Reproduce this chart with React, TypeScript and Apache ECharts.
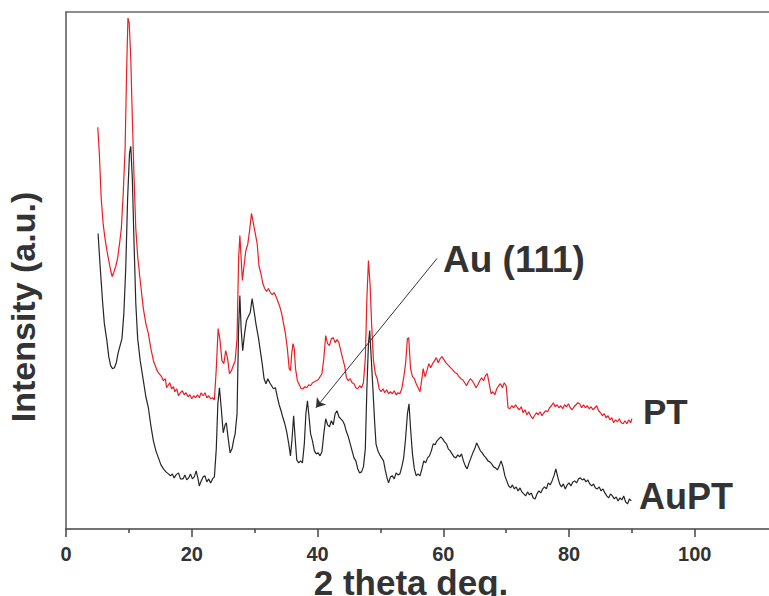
import React, { useEffect, useRef } from "react";
import * as echarts from "echarts";

// 2 theta (deg) and intensity (a.u.) for PT (red)
const ptTheta = [
  5.05, 5.3, 5.6, 5.9, 6.2, 6.5, 6.8, 7.1, 7.35, 7.6, 7.9, 8.2, 8.5, 8.8, 9.1, 9.4, 9.65, 9.85, 10.05, 10.3,
  10.55, 10.8, 11.1, 11.4, 11.8, 12.3, 12.7, 13.1, 13.5, 13.9, 14.2, 14.5, 14.8, 15.2, 15.5, 15.8, 16.0, 16.3, 16.5, 16.8,
  17.1, 17.3, 17.6, 17.9, 18.2, 18.5, 18.8, 19.1, 19.4, 19.7, 20.0, 20.3, 20.6, 20.9, 21.2, 21.5, 21.8, 22.1, 22.4, 22.7,
  23.0, 23.3, 23.6, 23.9, 24.2, 24.5, 24.8, 25.1, 25.4, 25.7, 26.0, 26.3, 26.6, 26.9, 27.2, 27.45, 27.65, 27.85, 28.05, 28.3,
  28.6, 28.9, 29.2, 29.5, 29.8, 30.1, 30.4, 30.7, 31.0, 31.3, 31.6, 31.9, 32.2, 32.5, 32.8, 33.1, 33.4, 33.7, 34.0, 34.3,
  34.6, 34.9, 35.2, 35.5, 35.7, 35.9, 36.1, 36.3, 36.5, 36.8, 37.1, 37.4, 37.7, 38.0, 38.3, 38.6, 38.9, 39.2, 39.5, 39.8,
  40.1, 40.4, 40.7, 41.0, 41.3, 41.6, 41.9, 42.2, 42.5, 42.8, 43.1, 43.4, 43.7, 44.0, 44.3, 44.6, 44.9, 45.2, 45.5, 45.8,
  46.1, 46.4, 46.7, 47.0, 47.3, 47.6, 47.85, 48.1, 48.35, 48.6, 48.9, 49.2, 49.5, 49.8, 50.1, 50.4, 50.7, 51.0, 51.3, 51.6,
  51.9, 52.2, 52.5, 52.8, 53.1, 53.4, 53.7, 54.0, 54.3, 54.5, 54.8, 55.1, 55.4, 55.7, 56.0, 56.3, 56.6, 56.8, 57.1, 57.4,
  57.7, 58.0, 58.3, 58.6, 58.9, 59.2, 59.5, 59.8, 60.1, 60.4, 60.7, 61.0, 61.3, 61.6, 61.9, 62.2, 62.5, 62.8, 63.1, 63.4,
  63.7, 64.0, 64.3, 64.6, 64.9, 65.2, 65.5, 65.8, 66.1, 66.4, 66.7, 67.0, 67.3, 67.6, 67.9, 68.2, 68.5, 68.8, 69.1, 69.4,
  69.7, 70.0, 70.3, 70.6, 70.9, 71.2, 71.5, 71.8, 72.1, 72.4, 72.7, 73.0, 73.3, 73.6, 73.9, 74.2, 74.5, 74.8, 75.1, 75.4,
  75.7, 76.0, 76.3, 76.6, 76.9, 77.2, 77.5, 77.8, 78.1, 78.4, 78.7, 79.0, 79.3, 79.6, 79.9, 80.2, 80.5, 80.8, 81.1, 81.4,
  81.7, 82.0, 82.3, 82.6, 82.9, 83.2, 83.5, 83.8, 84.1, 84.4, 84.7, 85.0, 85.3, 85.6, 85.9, 86.2, 86.5, 86.8, 87.1, 87.4,
  87.7, 88.0, 88.3, 88.6, 88.9, 89.2, 89.5, 89.8, 90.0,
];
const ptIntensity = [
  401, 375, 330, 305, 290, 278, 268, 258, 252, 256, 262, 270, 284, 300, 335, 380, 460, 510, 505, 470,
  410, 355, 300, 272, 248, 220, 205, 195, 180, 168, 163, 158, 155, 152, 148, 150, 141, 144, 146, 140,
  142, 137, 140, 133, 136, 138, 134, 136, 132, 134, 130, 133, 131, 134, 131, 136, 133, 136, 131, 133,
  130, 131, 129, 160, 200, 188, 168, 165, 178, 170, 155, 158, 163, 168, 190, 270, 293, 270, 248, 262,
  278, 284, 298, 315, 305, 295, 285, 262, 255, 245, 240, 237, 240, 236, 234, 236, 232, 227, 222, 215,
  205, 195, 180, 160, 158, 175, 185, 180, 160, 148, 144, 140, 140, 142, 141, 144, 143, 146, 147, 148,
  149, 152, 155, 170, 193, 185, 183, 190, 191, 186, 189, 186, 178, 170, 163, 151, 148, 150, 146, 145,
  141, 140, 143, 141, 146, 170, 230, 268, 245, 205, 168, 155, 150, 140, 137, 140, 136, 139, 135, 137,
  135, 138, 134, 136, 135, 140, 151, 165, 190, 191, 160, 152, 150, 145, 141, 137, 150, 160, 152, 158,
  165, 161, 165, 168, 171, 166, 170, 172, 169, 166, 164, 162, 160, 158, 156, 155, 152, 150, 149, 146,
  143, 147, 150, 148, 145, 141, 144, 148, 151, 148, 153, 155, 145, 135, 137, 134, 140, 143, 145, 141,
  146, 143, 121, 120, 123, 121, 124, 121, 119, 122, 116, 119, 114, 117, 113, 110, 113, 116, 114, 117,
  113, 116, 118, 117, 121, 123, 126, 122, 124, 121, 123, 120, 124, 122, 125, 121, 119, 122, 124, 126,
  125, 121, 124, 121, 123, 120, 122, 119, 121, 123, 118, 116, 113, 115, 111, 113, 109, 111, 106, 109,
  107, 110, 106, 105, 108, 105, 109, 106, 110,
];

// 2 theta (deg) and intensity (a.u.) for AuPT (black)
const auptTheta = [
  5.1, 5.4, 5.8, 6.1, 6.5, 6.8, 7.1, 7.4, 7.7, 8.0, 8.3, 8.6, 8.9, 9.2, 9.5, 9.8, 10.1, 10.3, 10.55, 10.8,
  11.1, 11.4, 11.8, 12.3, 12.7, 13.1, 13.5, 13.9, 14.3, 14.7, 15.1, 15.5, 15.9, 16.3, 16.6, 16.9, 17.2, 17.5, 17.9, 18.2,
  18.6, 18.9, 19.2, 19.5, 19.8, 20.1, 20.4, 20.7, 21.0, 21.2, 21.5, 21.8, 22.1, 22.4, 22.7, 23.0, 23.3, 23.6, 23.9, 24.15,
  24.4, 24.7, 25.0, 25.3, 25.5, 25.8, 26.1, 26.4, 26.7, 26.9, 27.2, 27.45, 27.65, 27.85, 28.1, 28.4, 28.7, 29.0, 29.3, 29.6,
  29.9, 30.2, 30.6, 30.9, 31.2, 31.5, 31.8, 32.1, 32.4, 32.7, 33.0, 33.3, 33.6, 33.9, 34.2, 34.5, 34.8, 35.1, 35.4, 35.7,
  35.95, 36.2, 36.45, 36.7, 37.0, 37.3, 37.6, 37.9, 38.15, 38.4, 38.65, 38.9, 39.2, 39.5, 39.8, 40.1, 40.4, 40.7, 41.0, 41.3,
  41.6, 41.9, 42.2, 42.5, 42.8, 43.1, 43.4, 43.7, 44.0, 44.3, 44.6, 44.9, 45.2, 45.5, 45.8, 46.1, 46.4, 46.7, 47.0, 47.3,
  47.6, 47.85, 48.1, 48.3, 48.55, 48.8, 49.1, 49.3, 49.6, 49.9, 50.2, 50.5, 50.8, 51.1, 51.3, 51.6, 51.9, 52.2, 52.5, 52.8,
  53.1, 53.4, 53.7, 54.0, 54.3, 54.55, 54.8, 55.1, 55.4, 55.7, 56.0, 56.3, 56.6, 56.9, 57.2, 57.5, 57.8, 58.1, 58.4, 58.7,
  59.0, 59.3, 59.6, 59.9, 60.2, 60.5, 60.8, 61.1, 61.4, 61.7, 62.0, 62.3, 62.6, 62.9, 63.2, 63.5, 63.8, 64.1, 64.4, 64.7,
  65.0, 65.3, 65.6, 65.9, 66.2, 66.5, 66.8, 67.1, 67.4, 67.7, 68.0, 68.3, 68.6, 68.9, 69.2, 69.5, 69.8, 70.1, 70.4, 70.7,
  71.0, 71.3, 71.6, 71.9, 72.2, 72.5, 72.8, 73.1, 73.4, 73.7, 74.0, 74.3, 74.6, 74.9, 75.2, 75.5, 75.8, 76.1, 76.4, 76.7,
  77.0, 77.3, 77.6, 77.9, 78.2, 78.5, 78.8, 79.1, 79.4, 79.7, 80.0, 80.3, 80.6, 80.9, 81.2, 81.5, 81.8, 82.1, 82.4, 82.7,
  83.0, 83.3, 83.6, 83.9, 84.2, 84.5, 84.8, 85.1, 85.4, 85.7, 86.0, 86.3, 86.6, 86.9, 87.2, 87.5, 87.8, 88.1, 88.4, 88.7,
  89.0, 89.3, 89.6, 89.9,
];
const auptIntensity = [
  295, 265, 228, 205, 188, 172, 163, 160, 161, 166, 176, 183, 190, 215, 260, 330, 375, 382, 350, 290,
  225, 190, 168, 148, 132, 121, 103, 88, 78, 71, 64, 60, 57, 55, 53, 55, 51, 54, 56, 50,
  50, 54, 49, 51, 55, 50, 52, 58, 50, 43, 48, 52, 53, 47, 50, 46, 50, 52, 80, 125,
  141, 120, 96, 104, 106, 90, 76, 80, 90, 95, 115, 200, 233, 200, 178, 195, 208, 212, 216, 230,
  218, 205, 191, 178, 165, 150, 145, 150, 146, 143, 140, 141, 132, 124, 118, 111, 105, 97, 86, 73,
  90, 113, 90, 69, 66, 68, 66, 85, 115, 128, 112, 95, 88, 78, 75, 76, 73, 77, 95, 110,
  104, 102, 108, 104, 115, 118, 112, 110, 108, 104, 97, 92, 85, 78, 71, 68, 60, 56, 57, 62,
  80, 140, 185, 198, 170, 141, 105, 85, 78, 74, 71, 68, 58, 50, 46, 52, 53, 50, 56, 54,
  55, 62, 71, 90, 115, 125, 100, 75, 60, 53, 55, 53, 60, 68, 66, 71, 73, 78, 85, 84,
  88, 90, 92, 90, 87, 85, 80, 78, 75, 72, 71, 74, 72, 75, 68, 63, 60, 66, 71, 76,
  80, 86, 82, 78, 76, 73, 71, 68, 67, 65, 62, 61, 59, 63, 68, 62, 53, 48, 43, 41,
  44, 40, 42, 38, 41, 37, 35, 33, 37, 34, 36, 31, 30, 35, 38, 36, 40, 42, 40, 46,
  44, 48, 53, 60, 52, 45, 42, 45, 40, 44, 46, 43, 47, 48, 46, 50, 51, 49, 50, 47,
  49, 45, 43, 45, 41, 40, 42, 38, 40, 36, 33, 31, 35, 33, 30, 32, 28, 31, 29, 33,
  27, 25, 30, 28,
];

const majorTicks = [0, 20, 40, 60, 80, 100];
const minorTicks = [10, 30, 50, 70, 90];
const seriesNames = ["PT", "AuPT"];
const annotationText = "Au (111)";
// Au (111) arrow: start and end in data coordinates [2theta, intensity]
const arrowStart = [59.0, 270];
const arrowEnd = [39.75, 121];

const FONT = "'Liberation Sans', Arial, Helvetica, sans-serif";
const TEXT = "#333333";

export default function App() {
  const ref = useRef<HTMLDivElement>(null);

  useEffect(() => {
    if (!ref.current) return;
    const chart = echarts.init(ref.current, undefined, { renderer: "svg" });
    const pt = ptTheta.map((x, i) => [x, ptIntensity[i]]);
    const aupt = auptTheta.map((x, i) => [x, auptIntensity[i]]);
    const axisColor = "#444";

    chart.setOption({
      animation: false,
      backgroundColor: "#ffffff",
      grid: { left: 66, top: 12, right: 0, bottom: 67, containLabel: false },
      xAxis: [
        {
          type: "value",
          min: 0,
          max: 111.8,
          interval: 20,
          position: "bottom",
          axisLine: { show: true, onZero: false, lineStyle: { color: axisColor, width: 1.5 } },
          axisTick: { show: true, length: 8, customValues: majorTicks, lineStyle: { color: axisColor, width: 1.5 } },
          axisLabel: {
            customValues: majorTicks,
            fontSize: 20,
            fontWeight: "bold",
            fontFamily: FONT,
            color: TEXT,
            margin: 15,
            formatter: (v: number) => (v % 20 === 0 ? String(v) : ""),
          },
          splitLine: { show: false },
        },
        {
          type: "value",
          min: 0,
          max: 111.8,
          interval: 10,
          position: "bottom",
          axisLine: { show: false, onZero: false },
          axisTick: { show: true, length: 4, customValues: minorTicks, lineStyle: { color: axisColor, width: 1.5 } },
          axisLabel: { show: false },
          splitLine: { show: false },
        },
        {
          type: "value",
          min: 0,
          max: 111.8,
          position: "top",
          axisLine: { show: true, onZero: false, lineStyle: { color: "#666", width: 1.5 } },
          axisTick: { show: false },
          axisLabel: { show: false },
          splitLine: { show: false },
        },
      ],
      yAxis: {
        type: "value",
        min: 0,
        max: 516,
        axisLine: { show: true, onZero: false, lineStyle: { color: "#555", width: 1.5 } },
        axisTick: { show: false },
        axisLabel: { show: false },
        splitLine: { show: false },
      },
      series: [
        {
          name: seriesNames[0],
          type: "line",
          data: pt,
          showSymbol: false,
          lineStyle: { color: "#ee1d23", width: 1.2 },
          itemStyle: { color: "#ee1d23" },
        },
        {
          name: seriesNames[1],
          type: "line",
          data: aupt,
          showSymbol: false,
          lineStyle: { color: "#262626", width: 1.2 },
          itemStyle: { color: "#262626" },
          markLine: {
            silent: true,
            symbol: ["none", "arrow"],
            symbolSize: 9,
            label: { show: false },
            lineStyle: { color: "#333", width: 1, type: "solid" },
            data: [[{ coord: arrowStart }, { coord: arrowEnd }]],
          },
        },
      ],
      graphic: [
        {
          type: "text",
          x: 443,
          y: 259,
          style: { text: annotationText, font: `bold 37px ${FONT}`, fill: TEXT, textAlign: "left", textVerticalAlign: "middle" },
        },
        {
          type: "text",
          x: 643,
          y: 411,
          style: { text: seriesNames[0], font: `bold 35px ${FONT}`, fill: TEXT, textAlign: "left", textVerticalAlign: "middle" },
        },
        {
          type: "text",
          x: 639,
          y: 496,
          style: { text: seriesNames[1], font: `bold 36px ${FONT}`, fill: TEXT, textAlign: "left", textVerticalAlign: "middle" },
        },
        {
          type: "text",
          x: 411,
          y: 582,
          style: { text: "2 theta deg.", font: `bold 35px ${FONT}`, fill: TEXT, textAlign: "center", textVerticalAlign: "middle" },
        },
        {
          type: "text",
          x: 23,
          y: 307,
          rotation: Math.PI / 2,
          style: { text: "Intensity (a.u.)", font: `bold 34px ${FONT}`, fill: TEXT, textAlign: "center", textVerticalAlign: "middle" },
        },
      ],
    });
    return () => chart.dispose();
  }, []);

  return <div ref={ref} style={{ width: 769, height: 596, position: "absolute", left: 0, top: 0 }} />;
}
